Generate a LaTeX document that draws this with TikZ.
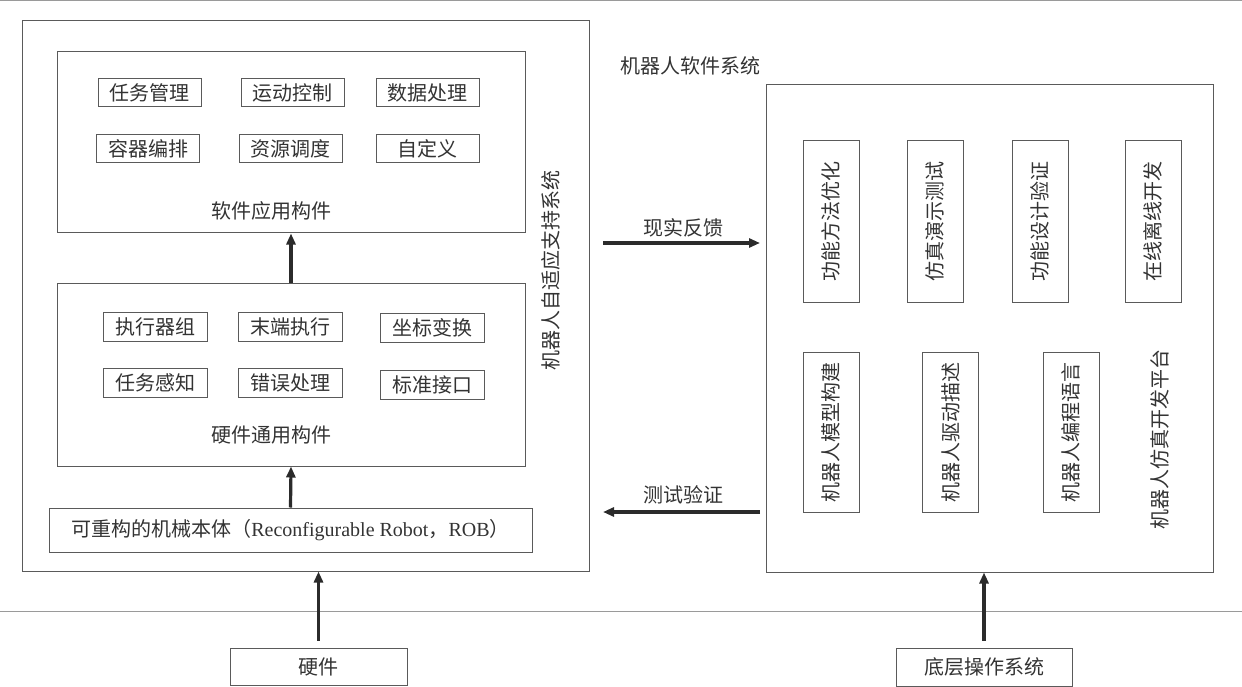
\documentclass[tikz,border=0pt]{standalone}
\usepackage{fontspec}
\setmainfont{Noto Sans CJK SC}
\newfontfamily\latinfont{Liberation Serif}
\usetikzlibrary{arrows.meta}
\definecolor{boxc}{HTML}{5A5A5A}
\definecolor{linec}{HTML}{9A9A9A}
\definecolor{arrc}{HTML}{2B2B2B}
\definecolor{txtc}{HTML}{333333}
\begin{document}
\begin{tikzpicture}[x=1pt,y=-1pt,
  every node/.style={text=txtc, font=\fontsize{20}{23}\selectfont, inner sep=0pt},
  box/.style={draw=boxc, line width=1pt},
  sub/.style={box, minimum width=103, minimum height=28},
  vbox/.style={box, minimum width=161, minimum height=56, rotate=90},
  arr/.style={draw=arrc, line width=3.2pt, -{Triangle[length=11pt,width=9pt]}},
  sep/.style={draw=linec, line width=1pt}]
\useasboundingbox (0,0) rectangle (1242,687);
% separator lines
\draw[sep] (0,1) -- (1242,1);
\draw[sep] (0,611) -- (1242,611);
% left outer
\node[box, minimum width=567, minimum height=550] (outer) at (305.5,296) {};
\node[rotate=90] (adapt) at (551,270) {机器人自适应支持系统};
% software box
\node[box, minimum width=468, minimum height=181] (sw) at (291,142.5) {};
\node[sub] (s1) at (149.5,93) {任务管理};
\node[sub] (s2) at (292.5,93) {运动控制};
\node[sub] (s3) at (427.5,93) {数据处理};
\node[sub] (s4) at (148,149) {容器编排};
\node[sub] (s5) at (290.5,149) {资源调度};
\node[sub] (s6) at (427.5,149) {自定义};
\node (swl) at (271,211) {软件应用构件};
% hardware box
\node[box, minimum width=468, minimum height=183] (hw) at (291,374.5) {};
\node[sub, minimum width=104, minimum height=29] (h1) at (155,327) {执行器组};
\node[sub, minimum width=104, minimum height=29] (h2) at (290.5,327) {末端执行};
\node[sub, minimum width=104, minimum height=29] (h3) at (432.5,327.5) {坐标变换};
\node[sub, minimum width=104, minimum height=29] (h4) at (155,383) {任务感知};
\node[sub, minimum width=104, minimum height=29] (h5) at (290.5,383) {错误处理};
\node[sub, minimum width=104, minimum height=29] (h6) at (432.5,384.5) {标准接口};
\node (hwl) at (271,435) {硬件通用构件};
% ROB
\node[box, minimum width=483, minimum height=44] (rob) at (290.5,530)
  {可重构的机械本体（{\latinfont Reconfigurable Robot}，{\latinfont ROB}）};
% hardware base
\node[box, minimum width=177, minimum height=37] (hwbase) at (318.5,666.5) {硬件};
% right side
\node (rsys) at (690,66) {机器人软件系统};
\node[box, minimum width=447, minimum height=487] (rbox) at (989.5,328.5) {};
\node[vbox] (r1) at (831,221.5) {功能方法优化};
\node[vbox] (r2) at (935,221.5) {仿真演示测试};
\node[vbox] (r3) at (1040,221.5) {功能设计验证};
\node[vbox] (r4) at (1153,221.5) {在线离线开发};
\node[vbox, minimum width=160] (r5) at (831,432) {机器人模型构建};
\node[vbox, minimum width=160] (r6) at (950.5,432) {机器人驱动描述};
\node[vbox, minimum width=160] (r7) at (1071,432) {机器人编程语言};
\node[rotate=90] (rl) at (1160,439) {机器人仿真开发平台};
\node[box, minimum width=176, minimum height=38] (os) at (984,667) {底层操作系统};
% arrows
\draw[arr] (hw.north) -- (sw.south);
\draw[arr] (rob.north) -- (hw.south);
\draw[arr, shorten <=7pt] (hwbase.north) -- (hwbase.north |- outer.south);
\draw[arr, shorten <=7pt] (os.north) -- (os.north |- rbox.south);
\coordinate (fbA) at (603,243);
\coordinate (fbB) at (760,243);
\draw[arr] (fbA) -- (fbB);
\node (fbl) at (683,228) {现实反馈};
\coordinate (tvA) at (760,512);
\coordinate (tvB) at (603,512);
\draw[arr] (tvA) -- (tvB);
\node (tvl) at (683,495) {测试验证};
\end{tikzpicture}
\end{document}
